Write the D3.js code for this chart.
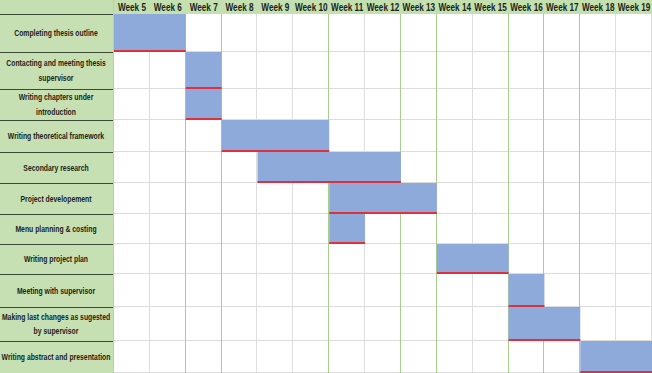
<!DOCTYPE html>
<html lang="en">
<head>
    <meta charset="UTF-8">
    <title>Thesis Gantt Chart</title>
    <script src="https://d3js.org/d3.v7.min.js"></script>
    <style>
        body {
            margin: 0;
            padding: 0;
            background: #fff;
        }
        svg {
            display: block;
        }
        .hdr text, .task-label text {
            font-family: "Liberation Sans", Arial, sans-serif;
            font-weight: bold;
            fill: #1b2418;
        }
    </style>
</head>
<body>
    <svg width="652" height="373"></svg>

    <script>
        // weeks shown across the top
        const weeks = ["Week 5", "Week 6", "Week 7", "Week 8", "Week 9", "Week 10", "Week 11",
                       "Week 12", "Week 13", "Week 14", "Week 15", "Week 16", "Week 17", "Week 18", "Week 19"];

        // task names (\n = line break as in the sheet)
        const tasks = [
            "Completing thesis outline",
            "Contacting and meeting thesis\nsupervisor",
            "Writing chapters under\nintroduction",
            "Writing theoretical framework",
            "Secondary research",
            "Project developement",
            "Menu planning & costing",
            "Writing project plan",
            "Meeting with supervisor",
            "Making last changes as sugested\nby supervisor",
            "Writing abstract and presentation"
        ];

        // first and last week of each task
        const startWeek = ["Week 5", "Week 7", "Week 7", "Week 8", "Week 9", "Week 11", "Week 11",
                           "Week 14", "Week 16", "Week 16", "Week 18"];
        const endWeek   = ["Week 6", "Week 7", "Week 7", "Week 10", "Week 12", "Week 13", "Week 11",
                           "Week 15", "Week 16", "Week 17", "Week 19"];

        // column borders that are coloured green in the sheet (right edge of these weeks)
        const greenEdges = ["Week 6", "Week 7", "Week 10", "Week 12", "Week 13", "Week 15", "Week 16", "Week 17"];

        const svg = d3.select("svg");
        const width = +svg.attr("width");
        const height = +svg.attr("height");

        const labelW = 114;
        const headerH = 14;
        const narrow = 0.76; // squeeze text to look like the sheet's condensed font

        // rows in the sheet are not all the same height
        const rowH = [38, 37, 31, 32, 31, 31, 30, 30, 33, 34, 32];
        const rowScale = (height - headerH) / d3.sum(rowH);
        const rowTop = [headerH];
        rowH.forEach((h, i) => rowTop.push(rowTop[i] + h * rowScale));

        const x = d3.scaleBand()
            .domain(weeks)
            .range([labelW, width]);

        const y = d3.scaleOrdinal()
            .domain(tasks)
            .range(rowTop.slice(0, tasks.length));
        const rowHeight = t => rowTop[tasks.indexOf(t) + 1] - y(t);

        // header background
        svg.append("rect")
            .attr("x", 0).attr("y", 0)
            .attr("width", width).attr("height", headerH)
            .attr("fill", "#c4dfb0");

        // label column background
        svg.append("rect")
            .attr("x", 0).attr("y", headerH)
            .attr("width", labelW).attr("height", height - headerH)
            .attr("fill", "#c6e0b4");

        // grey horizontal grid in the week area
        svg.append("g")
            .selectAll("line")
            .data(tasks)
            .join("line")
            .attr("x1", labelW).attr("x2", width)
            .attr("y1", d => y(d) + rowHeight(d) - 0.5)
            .attr("y2", d => y(d) + rowHeight(d) - 0.5)
            .attr("stroke", "#dcdcdc")
            .attr("stroke-width", 1);

        // vertical grid
        svg.append("g")
            .selectAll("line")
            .data(weeks)
            .join("line")
            .attr("x1", d => Math.round(x(d) + x.bandwidth()) - 0.5)
            .attr("x2", d => Math.round(x(d) + x.bandwidth()) - 0.5)
            .attr("y1", headerH)
            .attr("y2", height)
            .attr("stroke", d => greenEdges.includes(d) ? "#a8d08d" : "#dedede")
            .attr("stroke-width", 1);

        // bars
        const bars = svg.append("g")
            .selectAll("g")
            .data(tasks.map((t, i) => ({task: t, start: startWeek[i], end: endWeek[i]})))
            .join("g");

        bars.append("rect")
            .attr("x", d => x(d.start))
            .attr("y", d => y(d.task))
            .attr("width", d => x(d.end) + x.bandwidth() - x(d.start))
            .attr("height", d => rowHeight(d.task))
            .attr("fill", "#8eaadb");

        bars.append("rect")
            .attr("x", d => x(d.start))
            .attr("y", d => y(d.task) + rowHeight(d.task) - 2)
            .attr("width", d => x(d.end) + x.bandwidth() - x(d.start))
            .attr("height", 2)
            .attr("fill", "#e0303c");

        // dark row separators in label column
        svg.append("g")
            .selectAll("line")
            .data(tasks)
            .join("line")
            .attr("x1", 0).attr("x2", labelW)
            .attr("y1", d => y(d) + 0.5)
            .attr("y2", d => y(d) + 0.5)
            .attr("stroke", "#3b4a36")
            .attr("stroke-width", 1);

        // label column edge
        svg.append("line")
            .attr("x1", labelW - 0.5).attr("x2", labelW - 0.5)
            .attr("y1", 0).attr("y2", height)
            .attr("stroke", "#b5d59e");

        // header text
        svg.append("g")
            .attr("class", "hdr")
            .selectAll("text")
            .data(weeks)
            .join("text")
            .attr("transform", d => `translate(${x(d) + x.bandwidth() / 2},10.5) scale(0.78,1)`)
            .attr("text-anchor", "middle")
            .attr("font-size", 10.5)
            .text(d => d);

        // task labels
        const labels = svg.append("g")
            .attr("class", "task-label")
            .selectAll("text")
            .data(tasks)
            .join("text")
            .attr("transform", d => `translate(${labelW / 2 - 1},${y(d) + rowHeight(d) / 2}) scale(${narrow},1)`)
            .attr("text-anchor", "middle")
            .attr("font-size", 9);

        labels.each(function(d) {
            const lines = d.split("\n");
            const lh = 15;
            const t = d3.select(this);
            lines.forEach((ln, i) => {
                t.append("tspan")
                    .attr("x", 0)
                    .attr("y", (i - (lines.length - 1) / 2) * lh + 3)
                    .text(ln);
            });
        });
    </script>
</body>
</html>
